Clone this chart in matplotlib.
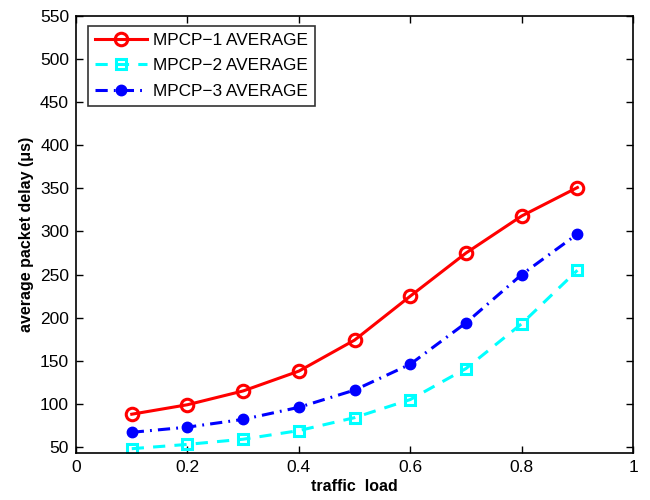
import matplotlib
matplotlib.use("Agg")
import matplotlib.pyplot as plt

load = [0.1, 0.2, 0.3, 0.4, 0.5, 0.6, 0.7, 0.8, 0.9]
mpcp1 = [88, 99, 115, 138, 174, 225, 275, 318, 351]
mpcp2 = [48, 53, 59, 69, 84, 105, 141, 193, 255]
mpcp3 = [67, 73, 82, 96, 116, 146, 194, 250, 297]
labels = ["MPCP\u22121 AVERAGE", "MPCP\u22122 AVERAGE", "MPCP\u22123 AVERAGE"]
xticks = [0, 0.2, 0.4, 0.6, 0.8, 1]
yticks = list(range(50, 551, 50))

plt.rcParams['font.family'] = ['Liberation Sans', 'DejaVu Sans']
fig = plt.figure(figsize=(6.5, 5), dpi=100)
ax = fig.add_axes([0.117, 0.094, 0.857, 0.874])

ax.plot(load, mpcp1, color='red', lw=2.2, marker='o', ms=9, mfc='none', mew=2.2, label=labels[0])
ax.plot(load, mpcp2, color='cyan', lw=2.2, ls=(0, (4, 3)), marker='s', ms=7, mfc='none', mew=2.2, label=labels[1])
ax.plot(load, mpcp3, color='blue', lw=2.2, ls=(0, (4, 2, 0.6, 2)), marker='o', ms=7.5, mfc='blue', mec='blue', label=labels[2])

ax.set_xlim(0, 1)
ax.set_ylim(43, 550)
ax.set_xticks(xticks)
ax.set_xticklabels(["0", "0.2", "0.4", "0.6", "0.8", "1"])
ax.set_yticks(yticks)
ax.tick_params(direction='in', top=True, right=True, labelsize=12.5, length=5, width=1, pad=5)
for s in ax.spines.values():
    s.set_linewidth(1.2)

ax.set_xlabel("traffic  load", fontsize=11.5, fontweight='bold', labelpad=3)
ax.set_ylabel("average packet delay (\u03bcs)", fontsize=11.5, fontweight='bold', labelpad=4)

leg = ax.legend(loc='upper left', bbox_to_anchor=(0.0215, 0.977), fontsize=12.4, frameon=True,
                fancybox=False, edgecolor='black', handlelength=3.0, borderpad=0.4,
                labelspacing=0.6, handletextpad=0.4, borderaxespad=0)
leg.get_frame().set_linewidth(1.2)

fig.savefig("out.png", dpi=100)
